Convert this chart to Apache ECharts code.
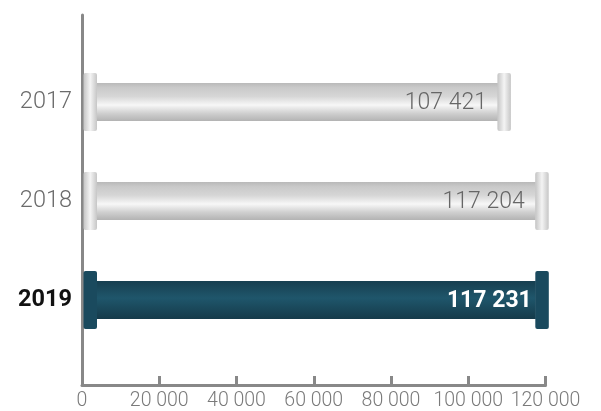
<!DOCTYPE html>
<html><head><meta charset="utf-8">
<script src="https://cdn.jsdelivr.net/npm/echarts@6/dist/echarts.min.js"></script>
<style>html,body{margin:0;padding:0;background:#fff}#c{width:601px;height:411px}</style>
</head><body><div id="c"></div>
<script>
const categories = ['2019', '2018', '2017'];
const values = [117231, 117204, 107421];
const highlight = '2019';
const xMin = 0, xMax = 120000, xStep = 20000;

function fmt(v){ return String(v).replace(/\B(?=(\d{3})+(?!\d))/g, ' '); }

const grayBody = new echarts.graphic.LinearGradient(0,0,0,1,[
  {offset:0,color:'#b9b9b9'},{offset:0.12,color:'#c9c9c9'},{offset:0.35,color:'#d6d6d6'},
  {offset:0.58,color:'#f7f7f7'},{offset:0.8,color:'#cfcfcf'},{offset:1,color:'#b3b3b3'}]);
const grayCap = new echarts.graphic.LinearGradient(0,0,1,0,[
  {offset:0,color:'#c4c4c4'},{offset:0.5,color:'#f4f4f4'},{offset:1,color:'#c6c6c6'}]);
const darkBody = new echarts.graphic.LinearGradient(0,0,0,1,[
  {offset:0,color:'#173f50'},{offset:0.45,color:'#1f566b'},{offset:1,color:'#153a4a'}]);
const darkCap = '#1a4a5e';

const chart = echarts.init(document.getElementById('c'), null, {renderer:'canvas'});
chart.setOption({
  animation:false,
  grid:[
    {left:82, right:55.5, top:15, bottom:25},
    {left:82, right:55.5, top:52.5, bottom:61.5}
  ],
  xAxis:[
    {gridIndex:0, type:'value', min:xMin, max:xMax, interval:xStep,
     axisLine:{show:true, lineStyle:{color:'#888', width:3}},
     axisTick:{show:true, inside:true, length:9, lineStyle:{color:'#888', width:3}},
     splitLine:{show:false},
     axisLabel:{color:'#7a7a7a', fontSize:19.5, fontFamily:'Roboto', fontWeight:300, margin:6,
       formatter:v=>fmt(v)}},
    {gridIndex:1, type:'value', min:xMin, max:xMax, show:false}
  ],
  yAxis:[
    {gridIndex:0, type:'value', min:0, max:1, axisLine:{show:true, lineStyle:{color:'#888', width:3}},
     axisTick:{show:false}, axisLabel:{show:false}, splitLine:{show:false}},
    {gridIndex:1, type:'category', data:categories,
     axisLine:{show:false}, axisTick:{show:false},
     axisLabel:{margin:10, fontFamily:'Roboto', fontSize:23.5,
       formatter:v=> v===highlight ? '{h|'+v+'}' : '{n|'+v+'}',
       rich:{n:{color:'#6b6b6b', fontSize:23.5, fontWeight:300, fontFamily:'Roboto'},
             h:{color:'#111', fontSize:23.5, fontWeight:'bold', fontFamily:'Roboto'}}}}
  ],
  series:[{
    type:'custom', xAxisIndex:1, yAxisIndex:1,
    data: values.map((v,i)=>[v,i]),
    renderItem:(params, api)=>{
      const v = api.value(0), ci = api.value(1);
      const s = api.coord([0, ci]), e = api.coord([v, ci]);
      const cy = s[1];
      const hl = categories[ci] === highlight;
      const bodyH = 38, capH = 58, capW = 13.5;
      const lx = s[0] + 1.5;
      return {type:'group', children:[
        {type:'rect', shape:{x:lx+capW, y:cy-bodyH/2, width:e[0]-lx-capW+1, height:bodyH},
         style:{fill: hl ? darkBody : grayBody}},
        {type:'rect', shape:{x:lx, y:cy-capH/2, width:capW, height:capH, r:2},
         style:{fill: hl ? darkCap : grayCap}},
        {type:'rect', shape:{x:e[0]+0.5, y:cy-capH/2, width:capW, height:capH, r:2},
         style:{fill: hl ? darkCap : grayCap}},
        {type:'text', x:e[0]-(hl ? 3 : 10), y:cy+1,
         style:{text:fmt(v), align:'right', verticalAlign:'middle',
           fontFamily:'Roboto', fontSize:23, fontWeight: hl ? 'bold' : 300,
           fill: hl ? '#ffffff' : '#666666'}}
      ]};
    }
  }]
});
</script></body></html>
